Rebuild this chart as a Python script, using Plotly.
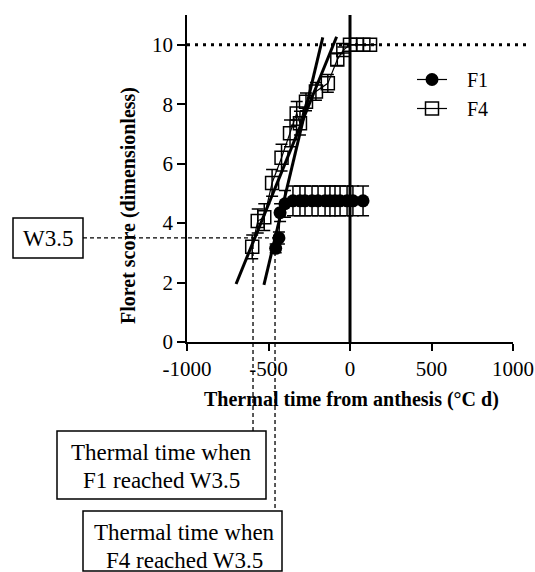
import plotly.graph_objects as go

# ---- data ----
f1_x = [-456, -436, -429, -399, -350, -307, -276, -233, -196, -153, -123, -92, -61, -18, 18, 80]
f1_y = [3.15, 3.5, 4.35, 4.65, 4.75, 4.75, 4.75, 4.75, 4.75, 4.75, 4.75, 4.75, 4.75, 4.75, 4.75, 4.75]
f1_err = [0.15, 0.2, 0.3, 0.45, 0.5, 0.5, 0.5, 0.5, 0.5, 0.5, 0.5, 0.5, 0.5, 0.5, 0.5, 0.5]

f4_x = [-600, -566, -526, -478, -420, -368, -327, -307, -270, -209, -136, -78, -41, 0, 41, 82, 123]
f4_y = [3.2, 4.07, 4.2, 5.35, 6.2, 7.02, 7.69, 7.36, 8.08, 8.43, 8.7, 9.5, 9.82, 10, 10, 10, 10]
f4_err = [0.4, 0.4, 0.45, 0.45, 0.45, 0.45, 0.4, 0.4, 0.3, 0.3, 0.3, 0.2, 0.1, 0, 0, 0, 0]

fit1_x = [-528, -167]
fit1_y = [1.92, 10.25]
fit4_x = [-699, -82]
fit4_y = [1.95, 10.27]

w35_level = 3.5
max_score = 10
t_box1 = -595   # dashed line leading to "F1 reached W3.5" box
t_box2 = -460   # dashed line leading to "F4 reached W3.5" box

x_ticks = [-1000, -500, 0, 500, 1000]
x_ticktext = ["-1000", "-500", "0", "500", "1000"]
y_ticks = [0, 2, 4, 6, 8, 10]
x_range = [-1000, 1000]
y_range = [0, 11]

FONT = "Liberation Serif"
W, H = 535, 572
ML, MR, MT, MB = 187, 22, 15, 230
PW, PH = W - ML - MR, H - MT - MB


def px_x(p):  # pixel -> paper x
    return (p - ML) / PW


def px_y(p):  # pixel -> paper y
    return (H - MB - p) / PH


def dx(v):  # data x -> paper x
    return (v - x_range[0]) / (x_range[1] - x_range[0])


def dy(v):  # data y -> paper y
    return (v - y_range[0]) / (y_range[1] - y_range[0])


fig = go.Figure()

# regression lines
for fx, fy in [(fit1_x, fit1_y), (fit4_x, fit4_y)]:
    fig.add_trace(go.Scatter(x=fx, y=fy, mode="lines", line=dict(color="black", width=3),
                             showlegend=False, hoverinfo="skip"))

NB = "\u00a0\u00a0\u00a0"
fig.add_trace(go.Scatter(
    x=f1_x, y=f1_y, mode="lines+markers", name=NB + "F1",
    line=dict(color="black", width=1.2),
    marker=dict(symbol="circle", size=13, color="black"),
    error_y=dict(type="data", array=f1_err, color="black", thickness=1.5, width=6),
))
fig.add_trace(go.Scatter(
    x=f4_x, y=f4_y, mode="lines+markers", name=NB + "F4",
    line=dict(color="black", width=1.2),
    marker=dict(symbol="square-open", size=13, color="black", line=dict(width=1.5)),
    error_y=dict(type="data", array=f4_err, color="black", thickness=1.5, width=6),
))

DASH = "4px,3px"
shapes = []
# vertical line at anthesis
shapes.append(dict(type="line", xref="x", yref="paper", x0=0, x1=0, y0=0, y1=1,
                   line=dict(color="black", width=3)))
# dotted line at max score
shapes.append(dict(type="line", xref="paper", yref="paper", x0=0, x1=px_x(531),
                   y0=dy(max_score), y1=dy(max_score),
                   line=dict(color="black", width=3, dash="3px,5px")))
# W3.5 horizontal dashed
shapes.append(dict(type="line", xref="paper", yref="paper", x0=px_x(83), x1=dx(t_box2),
                   y0=dy(w35_level), y1=dy(w35_level), line=dict(color="black", width=1.3, dash=DASH)))
# vertical dashed lines to boxes
shapes.append(dict(type="line", xref="paper", yref="paper", x0=dx(t_box1), x1=dx(t_box1),
                   y0=dy(w35_level), y1=px_y(431), line=dict(color="black", width=1.3, dash=DASH)))
shapes.append(dict(type="line", xref="paper", yref="paper", x0=dx(t_box2), x1=dx(t_box2),
                   y0=dy(w35_level), y1=px_y(511), line=dict(color="black", width=1.3, dash=DASH)))

# label boxes (pixel extents)
boxes = [(13, 83, 218, 258), (57, 266, 431, 499), (83, 282, 511, 571)]
for x0, x1, y0, y1 in boxes:
    shapes.append(dict(type="rect", xref="paper", yref="paper", x0=px_x(x0), x1=px_x(x1),
                       y0=px_y(y1), y1=px_y(y0), line=dict(color="black", width=1.5),
                       fillcolor="white", layer="above"))

box_texts = [
    ("W3.5", 48, 238),
    ("Thermal time when", 161, 452),
    ("F1 reached W3.5", 161, 480),
    ("Thermal time when", 184, 532),
    ("F4 reached W3.5", 184, 560),
]

annotations = [
    dict(text="<b>Thermal time from anthesis (°C d)</b>", xref="paper", yref="paper",
         x=px_x(351), y=px_y(399), showarrow=False, xanchor="center", yanchor="middle",
         font=dict(family=FONT, size=20, color="black")),
    dict(text="<b>Floret score (dimensionless)</b>", xref="paper", yref="paper",
         x=px_x(128), y=px_y(206), showarrow=False, xanchor="center", yanchor="middle",
         textangle=-90, font=dict(family=FONT, size=20, color="black")),
]
for t, x, y in box_texts:
    annotations.append(dict(text=t, xref="paper", yref="paper", x=px_x(x), y=px_y(y),
                            showarrow=False, xanchor="center", yanchor="middle",
                            font=dict(family=FONT, size=23, color="black")))

fig.update_layout(
    width=W, height=H,
    margin=dict(l=ML, r=MR, t=MT, b=MB),
    paper_bgcolor="white", plot_bgcolor="white",
    font=dict(family=FONT, size=20, color="black"),
    shapes=shapes, annotations=annotations,
    legend=dict(x=px_x(412), y=px_y(60), xanchor="left", yanchor="top",
                bgcolor="rgba(0,0,0,0)", font=dict(family=FONT, size=20, color="black"),
                itemwidth=30, tracegroupgap=0),
    showlegend=True,
)
fig.update_xaxes(range=x_range, tickvals=x_ticks, ticktext=x_ticktext, ticks="outside",
                 ticklen=7, tickwidth=1.5, tickcolor="black", showline=True, linecolor="black",
                 linewidth=1.5, showgrid=False, zeroline=False, automargin=False,
                 tickfont=dict(family=FONT, size=21, color="black"))
fig.update_yaxes(range=y_range, tickvals=y_ticks, ticks="outside", ticklen=8, tickwidth=1.5,
                 tickcolor="black", showline=True, linecolor="black", linewidth=1.5,
                 showgrid=False, zeroline=False, automargin=False,
                 tickfont=dict(family=FONT, size=21, color="black"))

fig.write_html("out.html")
